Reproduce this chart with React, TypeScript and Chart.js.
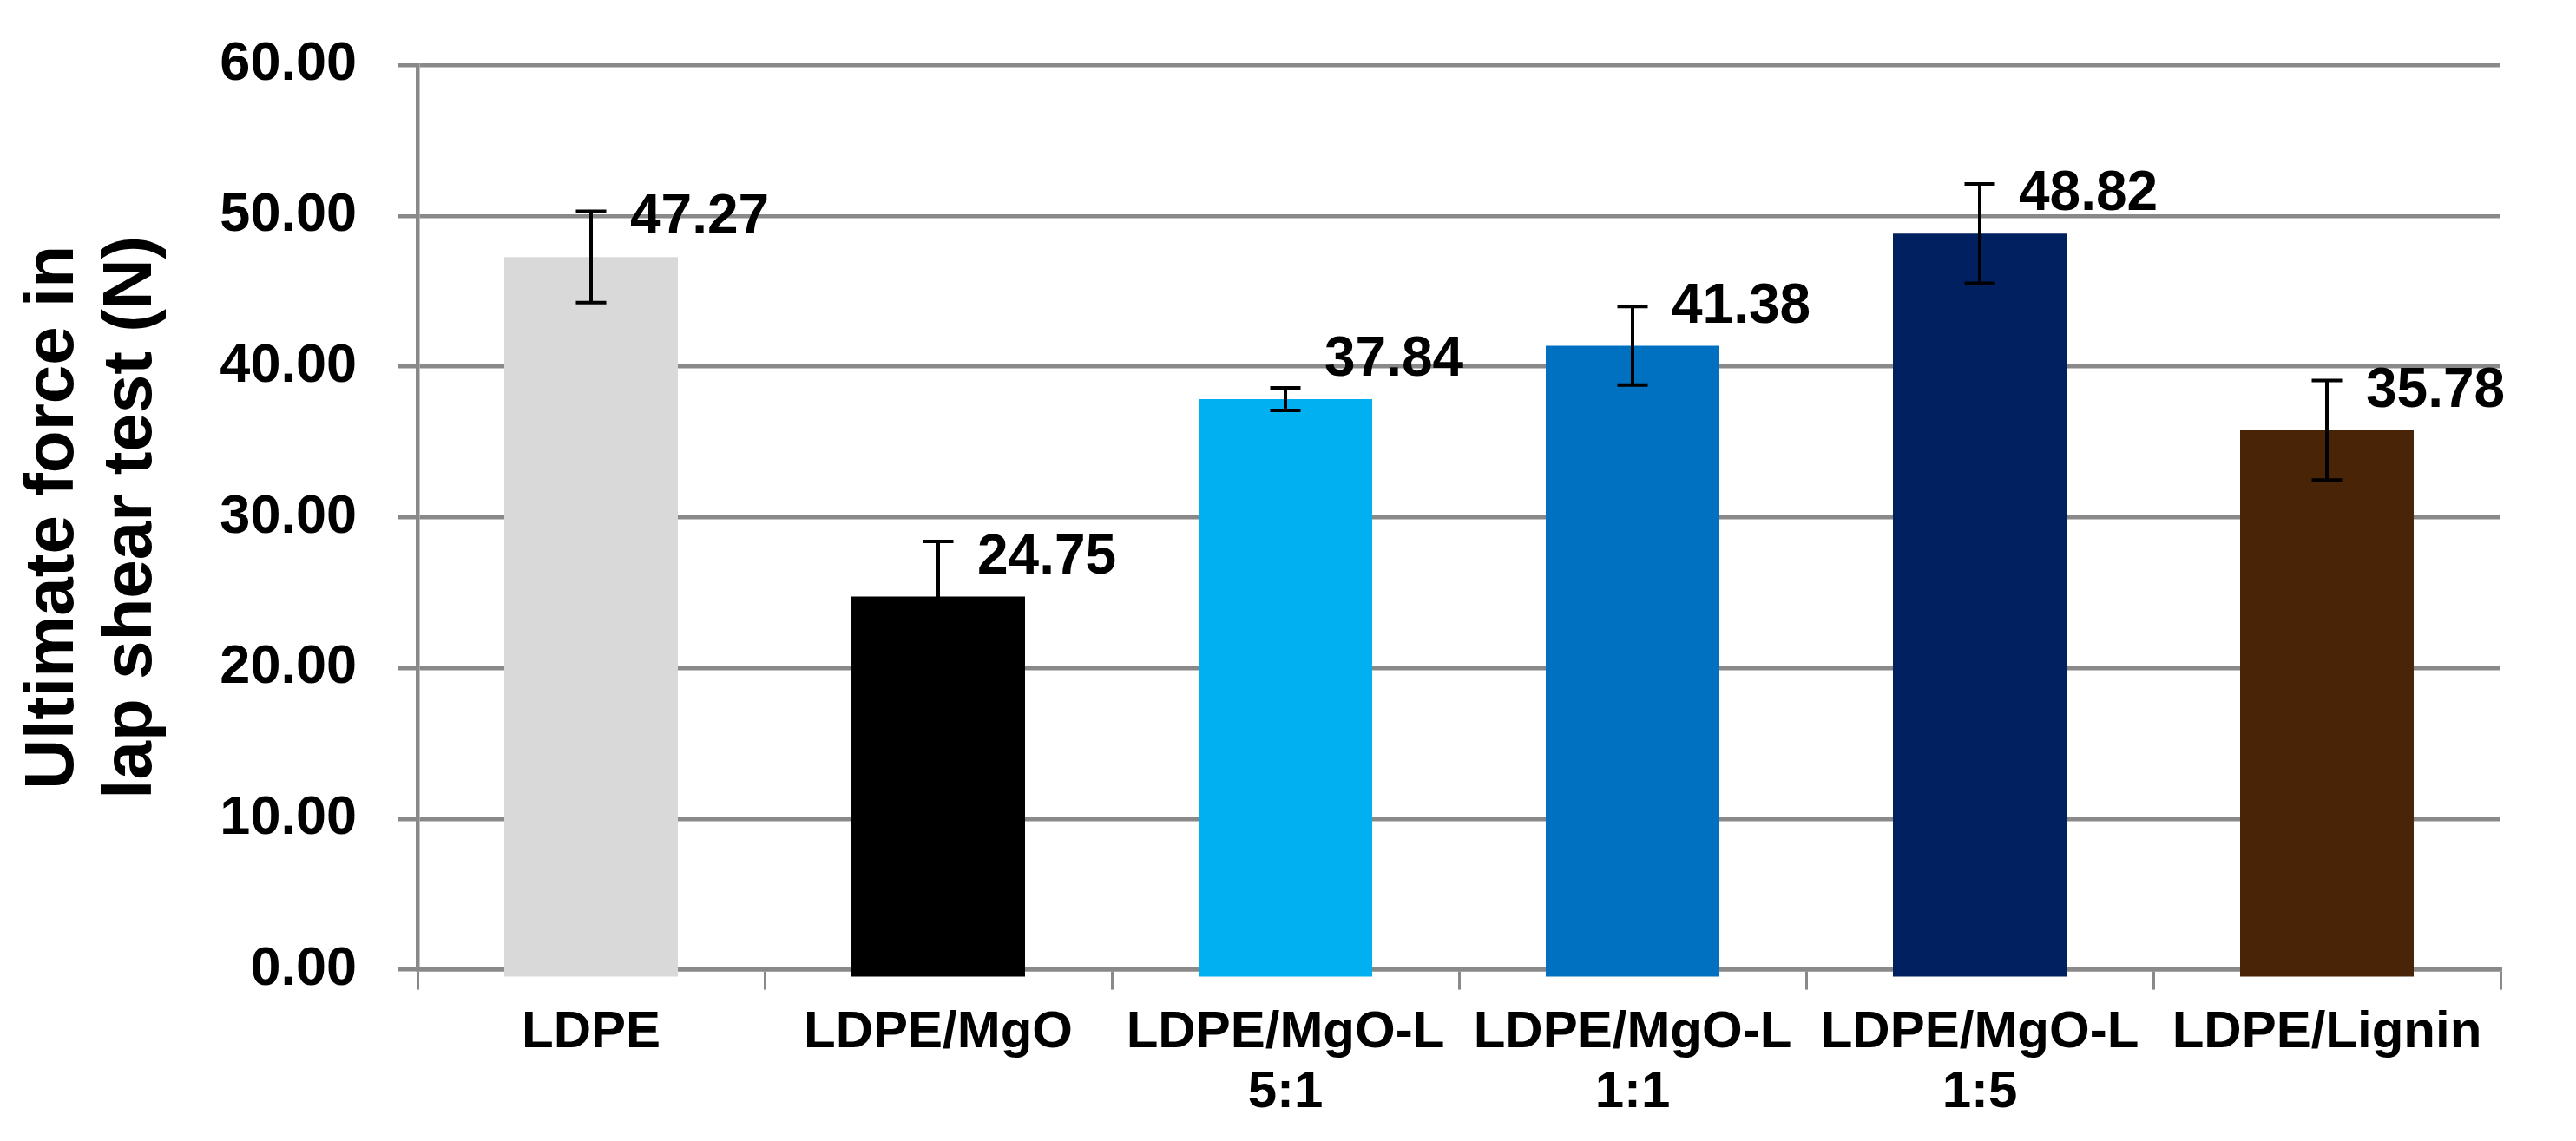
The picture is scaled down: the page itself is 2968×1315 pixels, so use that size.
import React, { useEffect, useRef } from "react";
import { Chart, registerables } from "chart.js";

Chart.register(...registerables);

const categories: (string | string[])[] = [
  "LDPE",
  "LDPE/MgO",
  ["LDPE/MgO-L", "5:1"],
  ["LDPE/MgO-L", "1:1"],
  ["LDPE/MgO-L", "1:5"],
  "LDPE/Lignin",
];
const values = [47.27, 24.75, 37.84, 41.38, 48.82, 35.78];
const errors = [3.03, 3.65, 0.75, 2.6, 3.3, 3.3];
const barColors = ["#D9D9D9", "#000000", "#00B0F0", "#0070C0", "#002060", "#4A2407"];
const yAxisTitle = ["Ultimate force in", "lap shear test (N)"];

const FONT = "'Liberation Sans', Arial, Helvetica, sans-serif";
const GRID = "#898989";

const errorBarPlugin = {
  id: "errorBars",
  afterDatasetsDraw(chart: any) {
    const ctx = chart.ctx;
    const meta = chart.getDatasetMeta(0);
    const yScale = chart.scales.y;
    ctx.save();
    ctx.strokeStyle = "#000000";
    ctx.lineWidth = 4;
    meta.data.forEach((el: any, i: number) => {
      const x = el.x;
      const yTop = yScale.getPixelForValue(values[i] + errors[i]);
      const yBot = yScale.getPixelForValue(values[i] - errors[i]);
      const half = 17.5;
      ctx.beginPath();
      ctx.moveTo(x, yTop);
      ctx.lineTo(x, yBot);
      ctx.moveTo(x - half, yTop);
      ctx.lineTo(x + half, yTop);
      ctx.moveTo(x - half, yBot);
      ctx.lineTo(x + half, yBot);
      ctx.stroke();
    });
    ctx.restore();
  },
};

const valueLabelPlugin = {
  id: "valueLabels",
  afterDraw(chart: any) {
    const ctx = chart.ctx;
    const meta = chart.getDatasetMeta(0);
    ctx.save();
    ctx.fillStyle = "#000000";
    ctx.font = `bold 64px ${FONT}`;
    ctx.textAlign = "left";
    ctx.textBaseline = "alphabetic";
    meta.data.forEach((el: any, i: number) => {
      ctx.fillText(values[i].toFixed(2), el.x + 45, el.y - 27);
    });
    ctx.restore();
  },
};

export default function App() {
  const canvasRef = useRef<HTMLCanvasElement | null>(null);

  useEffect(() => {
    if (!canvasRef.current) return;
    const chart = new Chart(canvasRef.current, {
      type: "bar",
      data: {
        labels: categories,
        datasets: [
          {
            data: values,
            backgroundColor: barColors,
            borderWidth: 0,
            barPercentage: 0.5,
            categoryPercentage: 1.0,
            base: -0.45,
            clip: false as any,
          },
        ],
      },
      options: {
        animation: false,
        responsive: true,
        maintainAspectRatio: false,
        devicePixelRatio: 1,
        layout: { padding: { top: 75, right: 87, left: 0, bottom: 0 } },
        plugins: {
          legend: { display: false },
          tooltip: { enabled: false },
        },
        scales: {
          x: {
            z: 1,
            afterFit: (scale: any) => {
              scale.height = 197.4;
              scale.paddingLeft = 0;
              scale.paddingRight = 0;
            },
            grid: {
              display: true,
              drawOnChartArea: false,
              drawTicks: true,
              tickLength: 23,
              offset: true,
              color: GRID,
              lineWidth: 3,
            },
            border: { display: true, color: GRID, width: 4.5 },
            ticks: {
              color: "#000000",
              font: { family: FONT, size: 60, weight: "bold", lineHeight: 1.15 },
              padding: 15,
              maxRotation: 0,
              autoSkip: false,
            },
          },
          y: {
            min: 0,
            max: 60,
            afterFit: (scale: any) => {
              scale.width = 481;
              scale.paddingTop = 0;
              scale.paddingBottom = 0;
            },
            grid: {
              color: GRID,
              lineWidth: 4.5,
              drawTicks: true,
              tickLength: 23,
            },
            border: { display: true, color: GRID, width: 4.5 },
            ticks: {
              stepSize: 10,
              color: "#000000",
              font: { family: FONT, size: 63, weight: "bold" },
              padding: 47,
              callback: (v: any) => Number(v).toFixed(2),
            },
            title: {
              display: true,
              text: yAxisTitle,
              color: "#000000",
              font: { family: FONT, size: 80, weight: "bold", lineHeight: 1.125 },
              padding: { top: 17, bottom: 0 },
            },
          },
        },
      },
      plugins: [errorBarPlugin, valueLabelPlugin],
    });
    return () => chart.destroy();
  }, []);

  return (
    <div
      style={{
        position: "absolute",
        left: 0,
        top: 0,
        width: "2968px",
        height: "1315px",
        background: "#ffffff",
      }}
    >
      <canvas ref={canvasRef} />
    </div>
  );
}
